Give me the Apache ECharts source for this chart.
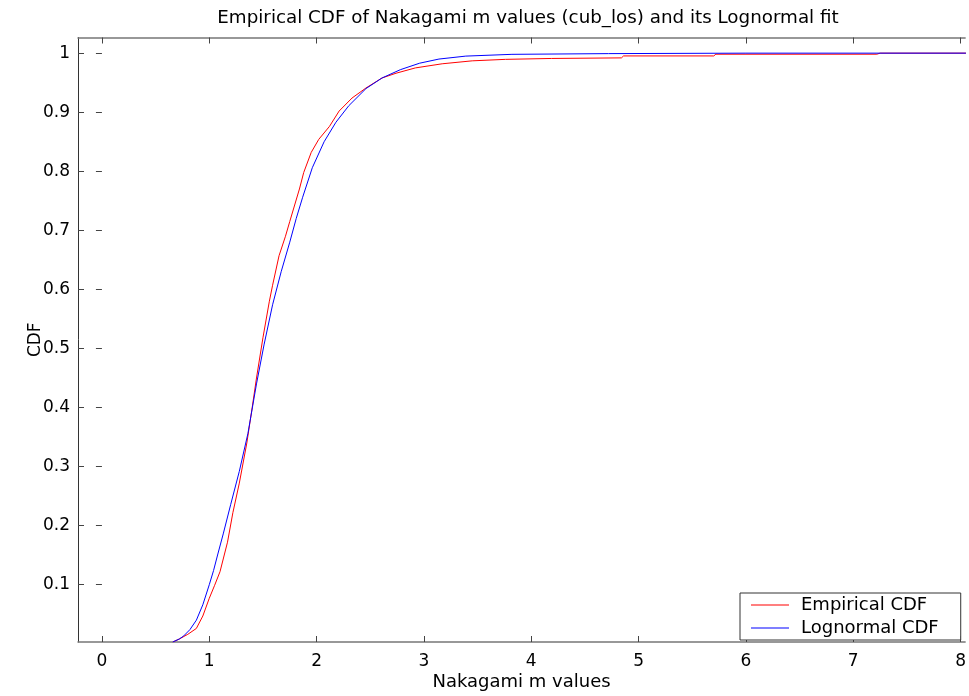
<!DOCTYPE html>
<html>
<head>
<meta charset="utf-8">
<script src="https://cdn.jsdelivr.net/npm/echarts@6/dist/echarts.min.js"></script>
<style>
html,body{margin:0;padding:0;background:#fff;}
#chart{width:969px;height:696px;}
</style>
</head>
<body>
<div id="chart"></div>
<script>
// Data
var titleText = 'Empirical CDF of Nakagami m values (cub_los) and its Lognormal fit';
var xName = 'Nakagami m values';
var yName = 'CDF';
var seriesNames = ['Empirical CDF', 'Lognormal CDF'];
var xTicks = [0, 1, 2, 3, 4, 5, 6, 7, 8];
var yTicks = [0.1, 0.2, 0.3, 0.4, 0.5, 0.6, 0.7, 0.8, 0.9, 1];

var empiricalX = [0.66, 0.72, 0.80, 0.88, 0.94, 1.00, 1.05, 1.10, 1.17, 1.22, 1.28, 1.35, 1.40, 1.44, 1.50, 1.56, 1.59, 1.65, 1.71, 1.75, 1.84, 1.88, 1.95, 2.02, 2.12, 2.21, 2.33, 2.46, 2.61, 2.74, 2.92, 3.17, 3.45, 3.76, 4.19, 4.84, 4.86, 5.70, 5.72, 7.22, 7.25, 8.05];
var empiricalY = [0.003, 0.008, 0.016, 0.026, 0.047, 0.077, 0.099, 0.122, 0.172, 0.222, 0.272, 0.340, 0.400, 0.450, 0.518, 0.580, 0.607, 0.657, 0.690, 0.715, 0.770, 0.798, 0.832, 0.854, 0.876, 0.902, 0.924, 0.941, 0.958, 0.966, 0.975, 0.982, 0.987, 0.9895, 0.991, 0.992, 0.9953, 0.9953, 0.9982, 0.9982, 1.0, 1.0];

var lognormalX = [0.66, 0.72, 0.76, 0.82, 0.88, 0.94, 1.00, 1.04, 1.08, 1.13, 1.20, 1.28, 1.36, 1.44, 1.51, 1.59, 1.67, 1.75, 1.81, 1.87, 1.96, 2.07, 2.18, 2.30, 2.46, 2.61, 2.78, 2.96, 3.14, 3.39, 3.82, 4.72, 6.00, 8.05];
var lognormalY = [0.003, 0.008, 0.013, 0.024, 0.040, 0.066, 0.100, 0.124, 0.152, 0.186, 0.236, 0.292, 0.356, 0.440, 0.506, 0.574, 0.630, 0.680, 0.720, 0.756, 0.806, 0.850, 0.883, 0.911, 0.940, 0.958, 0.972, 0.983, 0.990, 0.995, 0.998, 0.9992, 1.0, 1.0];

function pairs(xs, ys) {
  var out = [];
  for (var i = 0; i < xs.length; i++) out.push([xs[i], ys[i]]);
  return out;
}

var FONT = 'DejaVu Sans';
var chart = echarts.init(document.getElementById('chart'), null, {renderer: 'canvas'});

var xMin = -0.223, xMax = 8.042;
var yMin = 0.003, yMax = 1.0265;

chart.setOption({
  animation: false,
  backgroundColor: '#ffffff',
  title: {
    text: titleText,
    left: 523,
    textAlign: 'center',
    top: 4,
    textStyle: {fontFamily: FONT, fontSize: 18.3, fontWeight: 'normal', color: '#000'}
  },
  legend: {
    data: [
      {name: seriesNames[0], icon: 'rect', itemStyle: {color: '#ff0000'}},
      {name: seriesNames[1], icon: 'rect', itemStyle: {color: '#0000ff'}}
    ],
    orient: 'vertical',
    left: 740,
    top: 593,
    padding: [2, 22, 2, 11],
    itemGap: 3,
    itemWidth: 38,
    itemHeight: 1,
    borderColor: '#333',
    borderWidth: 1,
    backgroundColor: '#fff',
    textStyle: {fontFamily: FONT, fontSize: 18, color: '#000', lineHeight: 20, padding: [0, 0, 0, 7]}
  },
  grid: {left: 78, right: 0, top: 37.5, bottom: 48.3, containLabel: false},
  xAxis: [{
    type: 'value',
    position: 'bottom',
    min: xMin, max: xMax,
    name: xName,
    nameLocation: 'middle',
    nameGap: 31,
    nameMoveOverlap: false,
    nameTextStyle: {fontFamily: FONT, fontSize: 18, color: '#000'},
    axisLine: {show: true, onZero: false, lineStyle: {color: '#777', width: 1.5}},
    axisTick: {show: true, inside: true, length: 6, customValues: xTicks, lineStyle: {color: '#444'}},
    axisLabel: {show: true, customValues: xTicks, margin: 11, fontFamily: FONT, fontSize: 17, color: '#000'},
    splitLine: {show: false}
  }, {
    type: 'value',
    position: 'top',
    min: xMin, max: xMax,
    axisLine: {show: true, onZero: false, lineStyle: {color: '#777', width: 1.5}},
    axisTick: {show: true, inside: true, length: 6, customValues: xTicks, lineStyle: {color: '#444'}},
    axisLabel: {show: false},
    splitLine: {show: false}
  }],
  yAxis: [{
    type: 'value',
    position: 'left',
    min: yMin, max: yMax,
    name: yName,
    nameLocation: 'middle',
    nameGap: 34,
    nameRotate: 90,
    nameMoveOverlap: false,
    nameTextStyle: {fontFamily: FONT, fontSize: 17, color: '#000'},
    axisLine: {show: true, onZero: false, lineStyle: {color: '#333', width: 1}},
    axisTick: {show: true, inside: true, length: 6, customValues: yTicks, lineStyle: {color: '#444'}},
    axisLabel: {show: true, customValues: yTicks, margin: 8, fontFamily: FONT, fontSize: 17, color: '#000'},
    splitLine: {show: false}
  }, {
    type: 'value',
    position: 'right',
    min: yMin, max: yMax,
    axisLine: {show: false},
    axisTick: {show: true, inside: true, length: 6, customValues: yTicks, lineStyle: {color: '#444'}},
    axisLabel: {show: false},
    splitLine: {show: false}
  }],
  series: [{
    name: seriesNames[0],
    type: 'line',
    xAxisIndex: 0, yAxisIndex: 0,
    data: pairs(empiricalX, empiricalY),
    symbol: 'none',
    clip: true,
    lineStyle: {color: '#ff0000', width: 1},
    itemStyle: {color: '#ff0000'}
  }, {
    name: seriesNames[1],
    type: 'line',
    xAxisIndex: 0, yAxisIndex: 0,
    data: pairs(lognormalX, lognormalY),
    symbol: 'none',
    clip: true,
    lineStyle: {color: '#0000ff', width: 1},
    itemStyle: {color: '#0000ff'}
  }]
});
</script>
</body>
</html>
